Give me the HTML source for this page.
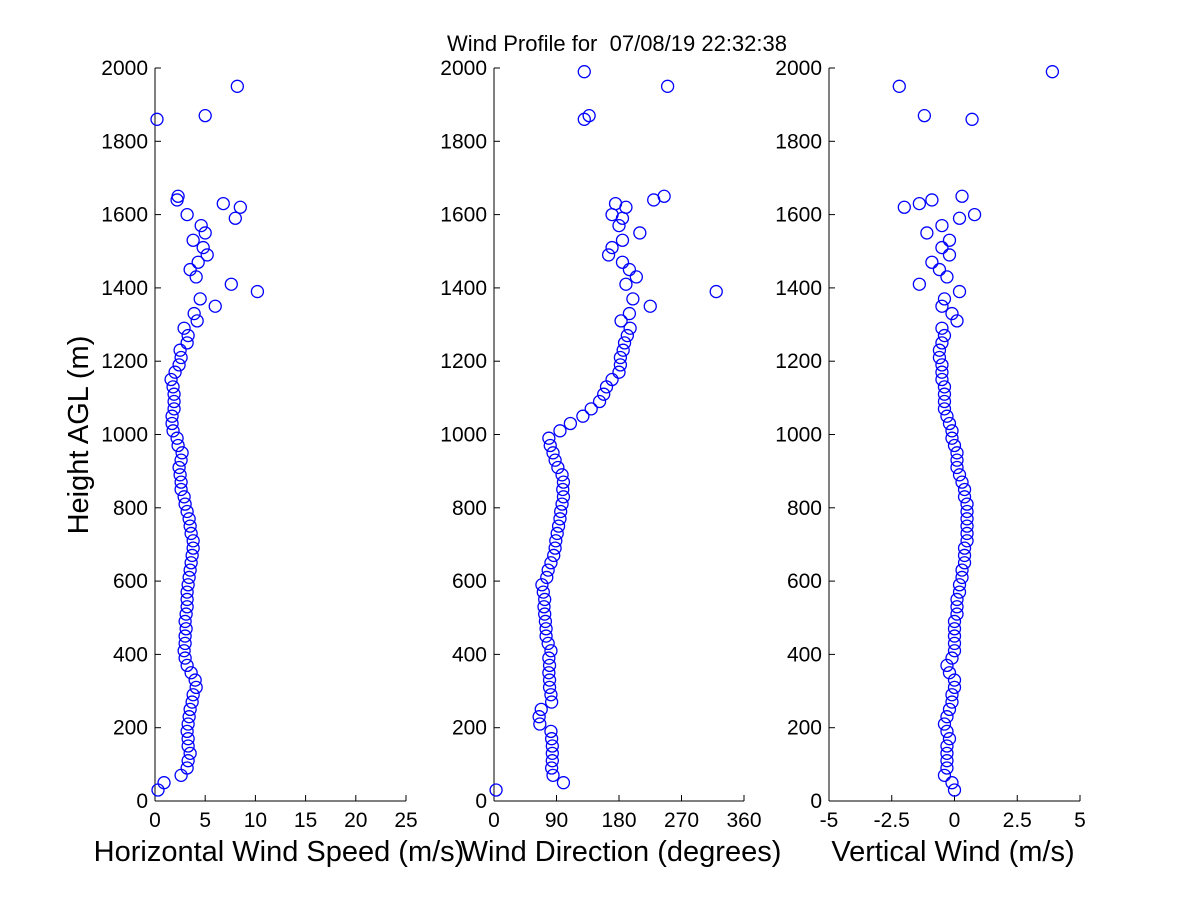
<!DOCTYPE html>
<html><head><meta charset="utf-8"><style>
body{margin:0;background:#fff}
svg{display:block}
text{font-family:"Liberation Sans",sans-serif;fill:#000}
</style></head><body>
<svg id="chart" width="1200" height="900">
<text x="617" y="51" font-size="22" text-anchor="middle" xml:space="preserve" style="white-space:pre">Wind Profile for  07/08/19 22:32:38</text>
<text transform="translate(88,435) rotate(-90)" font-size="29" text-anchor="middle">Height AGL (m)</text>
<g id="plots"></g>
</svg>
<script>
const heights=[30,50,70,90,110,130,150,170,190,210,230,250,270,290,310,330,350,370,390,410,430,450,470,490,510,530,550,570,590,610,630,650,670,690,710,730,750,770,790,810,830,850,870,890,910,930,950,970,990,1010,1030,1050,1070,1090,1110,1130,1150,1170,1190,1210,1230,1250,1270,1290,
1310,1330,1350,1370,1390,1410,1430,1450,1470,1490,1510,1530,1550,1570,1590,1600,1620,1630,1640,1650,1860,1870,1950,1990];
const speed=[0.3,0.9,2.6,3.2,3.3,3.5,3.3,3.3,3.2,3.3,3.4,3.5,3.7,3.8,4.1,4.0,3.6,3.2,3.0,2.9,3.0,3.0,3.1,3.0,3.1,3.2,3.2,3.2,3.3,3.4,3.5,3.6,3.7,3.8,3.8,3.6,3.5,3.4,3.2,3.0,2.9,2.6,2.6,2.5,2.4,2.6,2.7,2.3,2.2,1.8,1.7,1.7,1.9,1.9,1.9,1.8,1.6,2.0,2.4,2.6,2.5,3.2,3.3,2.9,
4.2,3.9,6.0,4.5,10.2,7.6,4.1,3.5,4.3,5.2,4.8,3.8,5.0,4.6,8.0,3.2,8.5,6.8,2.2,2.3,0.2,5.0,8.2,null];
const direction=[3,100,85,83,84,84,84,83,82,66,65,68,83,82,80,80,79,80,79,82,78,75,75,74,73,72,73,71,69,76,78,82,86,88,89,91,93,95,96,98,100,99,100,98,92,88,85,81,79,95,110,128,140,152,158,162,170,180,182,182,186,188,192,196,
183,195,225,200,320,190,205,195,185,165,170,185,210,180,185,170,190,175,230,245,130,137,250,130];
const vertical=[0,-0.1,-0.4,-0.3,-0.3,-0.3,-0.3,-0.2,-0.3,-0.4,-0.3,-0.2,-0.1,-0.1,0,0,-0.2,-0.3,-0.1,0,0,0,0,0,0.1,0.1,0.1,0.2,0.2,0.3,0.3,0.4,0.4,0.4,0.5,0.5,0.5,0.5,0.5,0.5,0.4,0.4,0.3,0.2,0.1,0.1,0.1,0,-0.1,-0.1,-0.2,-0.3,-0.4,-0.4,-0.4,-0.4,-0.5,-0.5,-0.5,-0.6,-0.6,-0.5,-0.4,-0.5,
0.1,-0.1,-0.5,-0.4,0.2,-1.4,-0.3,-0.6,-0.9,-0.2,-0.5,-0.2,-1.1,-0.5,0.2,0.8,-2.0,-1.4,-0.9,0.3,0.7,-1.2,-2.2,3.9];
const yTicks=[0,200,400,600,800,1000,1200,1400,1600,1800,2000];
const speedTicks=[0,5,10,15,20,25];
const dirTicks=[0,90,180,270,360];
const vertTicks=["-5","-2.5","0","2.5","5"];

const NS="http://www.w3.org/2000/svg";
const g=document.getElementById('plots');
const y0=801,y1=68;
function yS(h){return y0-(h/2000)*(y0-y1);}
function mk(t,a){const e=document.createElementNS(NS,t);for(const k in a)e.setAttribute(k,a[k]);g.appendChild(e);return e;}
const panels=[
 {name:'speed',x0:155,x1:406,min:0,max:25,vals:speed,ticks:speedTicks,label:'Horizontal Wind Speed (m/s)',lx:279},
 {name:'direction',x0:494,x1:744,min:0,max:360,vals:direction,ticks:dirTicks,label:'Wind Direction (degrees)',lx:621},
 {name:'vertical',x0:829,x1:1080,min:-5,max:5,vals:vertical,ticks:vertTicks,label:'Vertical Wind (m/s)',lx:953}
];
panels.forEach(p=>{
 const xS=v=>p.x0+(v-p.min)/(p.max-p.min)*(p.x1-p.x0);
 let e=mk('line',{x1:p.x0,y1:y1,x2:p.x0,y2:y0,stroke:'#000','stroke-width':1});
 
 
 e=mk('line',{x1:p.x0,y1:y0,x2:p.x1,y2:y0,stroke:'#000','stroke-width':1});
 
 
 yTicks.forEach(t=>{
  const y=yS(t);
  mk('line',{x1:p.x0,y1:y,x2:p.x0+6,y2:y,stroke:'#000'});
  const tx=mk('text',{x:p.x0-7,y:y+7,'font-size':21,'text-anchor':'end'});
  tx.textContent=t;
  
  
 });
 p.ticks.forEach(t=>{
  const x=xS(parseFloat(t));
  mk('line',{x1:x,y1:y0,x2:x,y2:y0-6,stroke:'#000'});
  const tx=mk('text',{x:x,y:827,'font-size':21,'text-anchor':'middle'});
  tx.textContent=t;
  
  
 });
 const lb=mk('text',{x:p.lx,y:861,'font-size':29,'text-anchor':'middle'});
 lb.textContent=p.label;
 
 
 p.vals.forEach((v,i)=>{
  if(v===null)return;
  const c=mk('circle',{cx:xS(v),cy:yS(heights[i]),r:6,fill:'none',stroke:'#0000ff','stroke-width':1.3});
  
  
 });
});
</script>
</body></html>
